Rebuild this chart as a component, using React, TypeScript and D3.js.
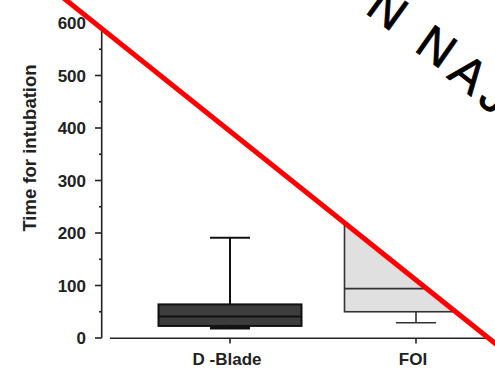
import React from "react";
import * as d3 from "d3";

const categories = ["D -Blade", "FOI"];
const mins = [19, 29];
const q1s = [23, 50];
const medians = [41, 94];
const q3s = [64, 300];
const maxs = [191, 520];
const yTicks = [0, 100, 200, 300, 400, 500, 600];
const yMinorTicks = [50, 150, 250, 350, 450, 550];
const yLabel = "Time for intubation";
const stampLetters = ["N", "N", "A", "J"];

const W = 495;
const H = 374;

export default function App() {
  const y = d3.scaleLinear().domain([0, 600]).range([338, 23]);
  const x = d3.scalePoint<string>().domain(categories).range([230, 416]);
  const boxHalf = 71.5;
  const capHalf = 20;
  const fills = ["#3d3d3d", "#e0e0e0"];
  const strokes = ["#111", "#333"];
  const font = "'Liberation Sans', Arial, Helvetica, sans-serif";

  // overlay geometry (red diagonal)
  const lx0 = 66, ly0 = 0;
  const slope = 0.8;
  const lineY = (px: number) => ly0 + slope * (px - lx0);
  const stampPos = [
    { x: 364, y: 12, r: 36 },
    { x: 413, y: 50, r: 35 },
    { x: 446, y: 77, r: 38 },
    { x: 476, y: 101, r: 42 },
  ];

  return (
    <svg
      width={W}
      height={H}
      style={{ position: "fixed", left: 0, top: 0, background: "#fff" }}
      fontFamily={font}
    >
      <rect x={0} y={0} width={W} height={H} fill="#fff" />
      {/* Y axis */}
      <line x1={101.7} x2={101.7} y1={y(600)} y2={y(0)} stroke="#222" strokeWidth={1.6} />
      {yTicks.map((t) => (
        <g key={t}>
          <line x1={95} x2={101.7} y1={y(t)} y2={y(t)} stroke="#222" strokeWidth={1.6} />
          <text
            x={86}
            y={y(t)}
            dy="0.36em"
            textAnchor="end"
            fontSize={17}
            fontWeight="bold"
            fill="#222"
          >
            {t}
          </text>
        </g>
      ))}
      {yMinorTicks.map((t) => (
        <line key={t} x1={99} x2={101.7} y1={y(t)} y2={y(t)} stroke="#222" strokeWidth={1.6} />
      ))}
      <text
        transform={`translate(36,148) rotate(-90)`}
        textAnchor="middle"
        fontSize={18.5}
        fontWeight="bold"
        fill="#222"
      >
        {yLabel}
      </text>
      {/* X axis */}
      <line x1={110} x2={W} y1={338.3} y2={338.3} stroke="#222" strokeWidth={1.6} />
      {categories.map((c) => (
        <g key={c}>
          <line x1={x(c)!} x2={x(c)!} y1={338.3} y2={343.5} stroke="#222" strokeWidth={1.6} />
          <text
            x={x(c)! - 3}
            y={365}
            textAnchor="middle"
            fontSize={17}
            fontWeight="bold"
            fill="#222"
          >
            {c}
          </text>
        </g>
      ))}
      {/* Boxes */}
      {categories.map((c, i) => {
        const cx = x(c)!;
        return (
          <g key={c} stroke={strokes[i]} strokeWidth={i === 0 ? 2 : 1.6}>
            <line x1={cx} x2={cx} y1={y(maxs[i])} y2={y(q3s[i])} />
            <line x1={cx - capHalf} x2={cx + capHalf} y1={y(maxs[i])} y2={y(maxs[i])} />
            <line x1={cx} x2={cx} y1={y(q1s[i])} y2={y(mins[i])} />
            <line
              x1={cx - capHalf}
              x2={cx + capHalf}
              y1={y(mins[i])}
              y2={y(mins[i])}
              strokeWidth={i === 0 ? 3 : 1.6}
            />
            <rect
              x={cx - boxHalf}
              y={y(q3s[i])}
              width={boxHalf * 2}
              height={y(q1s[i]) - y(q3s[i])}
              fill={fills[i]}
            />
            <line x1={cx - boxHalf} x2={cx + boxHalf} y1={y(medians[i])} y2={y(medians[i])} />
          </g>
        );
      })}
      {/* White overlay above the diagonal */}
      <polygon
        points={`${lx0 - 20},${lineY(lx0 - 20)} ${W + 20},${lineY(W + 20)} ${W + 20},-5 ${lx0 - 20},-5`}
        fill="#fff"
      />
      <line
        x1={lx0 - 20}
        y1={lineY(lx0 - 20)}
        x2={W + 20}
        y2={lineY(W + 20)}
        stroke="#ff0000"
        strokeWidth={5}
      />
      {stampLetters.map((ch, i) => (
        <text
          key={i}
          transform={`translate(${stampPos[i].x},${stampPos[i].y}) rotate(${stampPos[i].r})`}
          fontSize={48}
          fill="#000"
          stroke="#000"
          strokeWidth={0.8}
          fontFamily={font}
        >
          {ch}
        </text>
      ))}
    </svg>
  );
}
